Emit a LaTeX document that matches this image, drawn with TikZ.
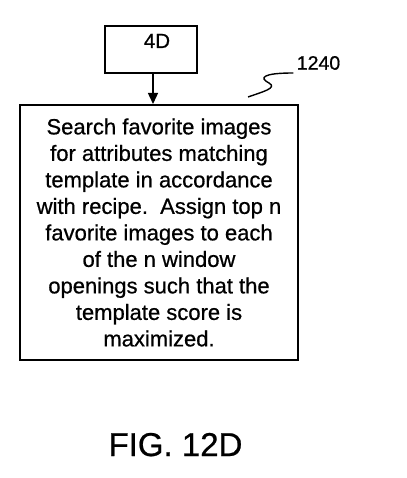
\documentclass[tikz,border=0pt]{standalone}
\usepackage{fontspec}
\setmainfont{Liberation Sans}[FakeBold=0.7]
\usetikzlibrary{arrows.meta}
\begin{document}
\begin{tikzpicture}[x=1pt,y=-1pt,
  boxstyle/.style={draw=black,line width=2pt,inner sep=0pt},
  flowarrow/.style={line width=1.4pt,-{Triangle[width=10pt,length=11pt]}}]
\useasboundingbox (0,0) rectangle (406,478);
\node[boxstyle,minimum width=92pt,text height=22pt,text depth=25pt,font=\fontsize{20.5}{22}\selectfont] (d4) at (151,25) [anchor=north] {\hspace*{12pt}4D};
\node[boxstyle,minimum width=278pt,minimum height=255pt,align=center,font=\fontsize{22}{26.5}\selectfont] (main) at (159,232.5)
 {Search favorite images\\for attributes matching\\template in accordance\\with recipe.\ \ Assign top n\\favorite images to each\\of the n window\\openings such that the\\template score is\\maximized.};
\draw[flowarrow] (d4.south -| 153,0) -- (main.north -| 153,0);
\node[font=\fontsize{19.5}{22}\selectfont] (lbl) at (318.5,63) {1240};
\coordinate (sq) at (248,97);
\draw[line width=1.4pt] (sq) .. controls (262,92) and (278,88) .. (269,83) .. controls (259,78) and (262,73) .. (lbl.west |- 0,73);
\node[font=\fontsize{33}{36}\selectfont,anchor=base] (fig) at (175.5,456) {FIG. 12D};
\end{tikzpicture}
\end{document}
